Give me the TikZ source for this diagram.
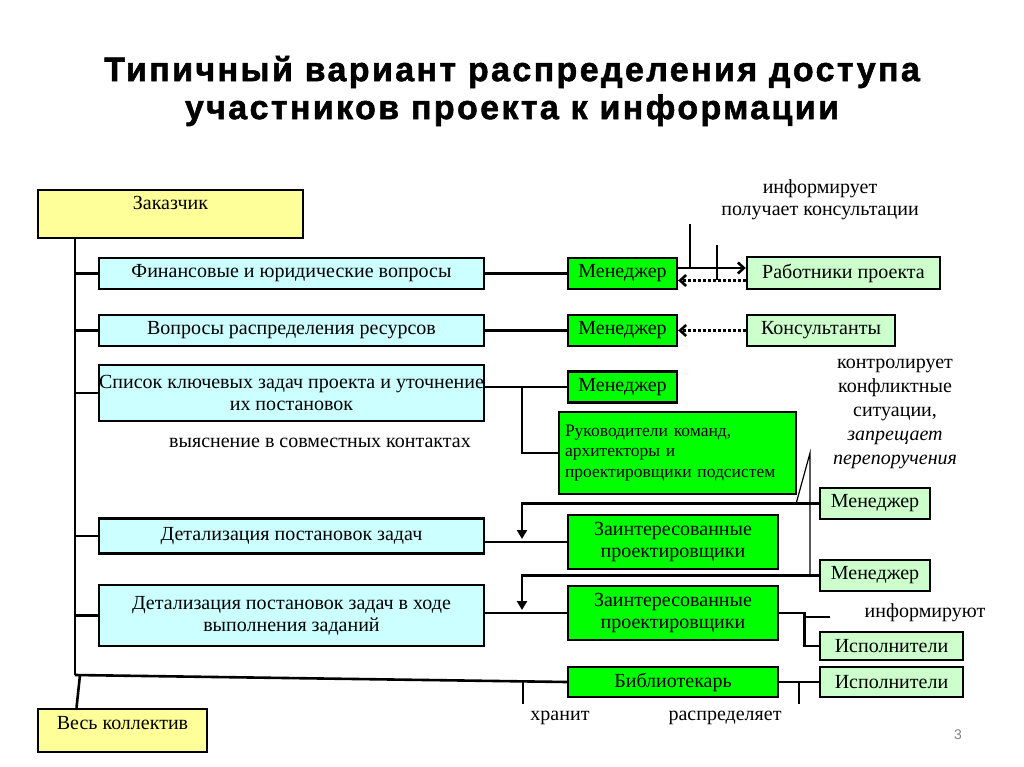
\documentclass[tikz,border=0pt]{standalone}
\usepackage{fontspec}
\setmainfont{Liberation Serif}
\newfontfamily\titlefont[LetterSpace=7, BoldFeatures={FakeBold=1.6}]{Liberation Sans}
\newfontfamily\numfont{Liberation Sans}
\usetikzlibrary{arrows.meta,positioning,calc}
\definecolor{custyellow}{HTML}{FFFF99}
\definecolor{topiccyan}{HTML}{CCFFFF}
\definecolor{mgrgreen}{HTML}{00FF00}
\definecolor{partgreen}{HTML}{CCFFCC}
\tikzset{%
	boxline/.style  = {draw, line width=2.4pt},
	custbox/.style  = {boxline, fill=custyellow, rectangle, inner sep=0pt, text height=20pt},
	topicbox/.style = {boxline, fill=topiccyan, rectangle, align=center, inner sep=0pt, minimum width=385pt},
	mgrbox/.style   = {boxline, fill=mgrgreen, rectangle, align=center, inner sep=0pt},
	partbox/.style  = {boxline, fill=partgreen, rectangle, align=center, inner sep=0pt},
	note/.style     = {align=center, inner sep=0pt},
	link/.style     = {line width=2.6pt},
	thin/.style     = {line width=1.2pt},
	arr/.style      = {line width=2.6pt, -{Triangle[length=9pt,width=10pt]}},
	barbarr/.style  = {line width=2.6pt, -{Straight Barb[length=6pt,width=11pt,line width=2.6pt]}},
	dotarr/.style   = {barbarr, dash pattern=on 2.5pt off 2.5pt},
}
\begin{document}
\begin{tikzpicture}[x=1pt,y=-1pt,font=\fontsize{20}{22}\selectfont]
\useasboundingbox (0,0) rectangle (1024,767);
% title
\node[note, font=\titlefont\bfseries\fontsize{34}{38}\selectfont] (title) at (512,91) {Типичный вариант распределения доступа\\участников проекта к информации};

% left column
\node[custbox, minimum width=265pt, text depth=28pt] (cust) at (170.5,214) {Заказчик};
\node[topicbox, minimum height=31pt] (fin) at (291.5,273.5) {Финансовые и юридические вопросы};
\node[topicbox, minimum height=31pt] (res) at (291.5,330.5) {Вопросы распределения ресурсов};
\node[topicbox, minimum height=56pt] (tasks) at (291.5,393) {Список ключевых задач проекта и уточнение\\их постановок};
\node[topicbox, minimum height=35pt] (det1) at (291.5,536) {Детализация постановок задач};
\node[topicbox, minimum height=61pt] (det2) at (291.5,615.5) {Детализация постановок задач в ходе\\выполнения заданий};
\node[custbox, minimum width=169pt, text depth=23pt] (team) at (122.5,730.5) {Весь коллектив};

% managers
\node[mgrbox, minimum width=109pt, minimum height=31pt] (mgr1) at (622.5,273.5) {Менеджер};
\node[mgrbox, minimum width=109pt, minimum height=31pt] (mgr2) at (622.5,330.5) {Менеджер};
\node[mgrbox, minimum width=109pt, minimum height=31pt] (mgr3) at (622.5,387) {Менеджер};
\node[mgrbox, minimum width=237pt, minimum height=82pt, align=left, text width=225pt,
      font=\fontsize{17.5}{20.5}\selectfont] (leads) at (677.5,453) {Руководители команд,\\архитекторы и\\проектировщики подсистем\\[5pt]};
\node[mgrbox, minimum width=210pt, minimum height=54pt] (int1) at (673,542) {Заинтересованные\\проектировщики};
\node[mgrbox, minimum width=210pt, minimum height=54pt] (int2) at (673,613) {Заинтересованные\\проектировщики};
\node[mgrbox, minimum width=210pt, minimum height=30pt] (lib) at (673,682) {Библиотекарь};

% right column
\node[partbox, minimum width=193pt, minimum height=32pt] (staff) at (843.5,273) {Работники проекта};
\node[partbox, minimum width=148pt, minimum height=31pt] (cons) at (821,330.5) {Консультанты};
\node[partbox, minimum width=110pt, minimum height=31pt] (mgr4) at (875,503.5) {Менеджер};
\node[partbox, minimum width=110pt, minimum height=31pt] (mgr5) at (875,575.5) {Менеджер};
\node[partbox, minimum width=143pt, minimum height=28pt] (exec1) at (891.5,646) {Исполнители};
\node[partbox, minimum width=143pt, minimum height=30pt] (exec2) at (891.5,682) {Исполнители};

% labels
\node[note] (inform) at (820,200) {информирует\\получает консультации};
\node[note] (clarify) at (320,443) {выяснение в совместных контактах};
\node[note, font=\fontsize{20}{24}\selectfont] (control) at (895,414) {контролирует\\конфликтные\\ситуации,\\\textit{запрещает}\\\textit{перепоручения}};
\node[note] (informs) at (925,613) {информируют};
\node[note] (keeps) at (560,718) {хранит};
\node[note] (distr) at (725,718) {распределяет};
\node[note, text=gray, font=\numfont\fontsize{14}{16}\selectfont] (pnum) at (958,735) {3};

% trunk
\coordinate (trunkTop) at (75,238);
\coordinate (trunkEnd) at (75,675);
\draw[link] (trunkTop) -- (trunkEnd);
\foreach \b in {fin,res,tasks,det1,det2}
	\draw[link] (\b.west -| trunkTop) -- (\b.west);
\draw[link] (trunkEnd) -- (lib.west);
\draw[link] ([xshift=-46pt]team.north) -- ([xshift=5pt]trunkEnd);

% topics to managers
\draw[link] (fin.east) -- (mgr1.west);
\draw[link] (res.east) -- (mgr2.west);
\draw[link] (mgr3.west -| tasks.east) -- (mgr3.west);
\coordinate (br) at (522,387);
\draw[link] (br) |- (leads.west);
\draw[link] (int1.west -| det1.east) -- (int1.west);
\draw[link] (int2.west -| det2.east) -- (int2.west);
\draw[link] (lib.east) -- (exec2.west);
\draw[link] (int2.east) -- ++(25,0) |- (exec1.west);

% managers on the right
\draw[arr] (mgr4.west) -| ([yshift=3pt]int1.west -| br);
\draw[arr] (mgr5.west) -| ([yshift=3pt]int2.west -| br);
\draw[barbarr] ([yshift=5.5pt]mgr1.east) -- ([yshift=5.5pt]mgr1.east -| staff.west);
\draw[dotarr] ([yshift=-7.5pt]staff.west) -- ([yshift=-7.5pt]staff.west -| mgr1.east);
\draw[dotarr] (cons.west) -- (mgr2.east);

% pointer lines
\draw[thin] (690,224) -- (690,267);
\draw[thin] (717,245) -- (717,280);
\draw[thin] (796,504) -- (810,453) -- (810,577);
\draw[thin] (805,617) -- (830,617);
\draw[thin] (523,682) -- (523,704);
\draw[thin] (799,682) -- (799,704);
\end{tikzpicture}
\end{document}
